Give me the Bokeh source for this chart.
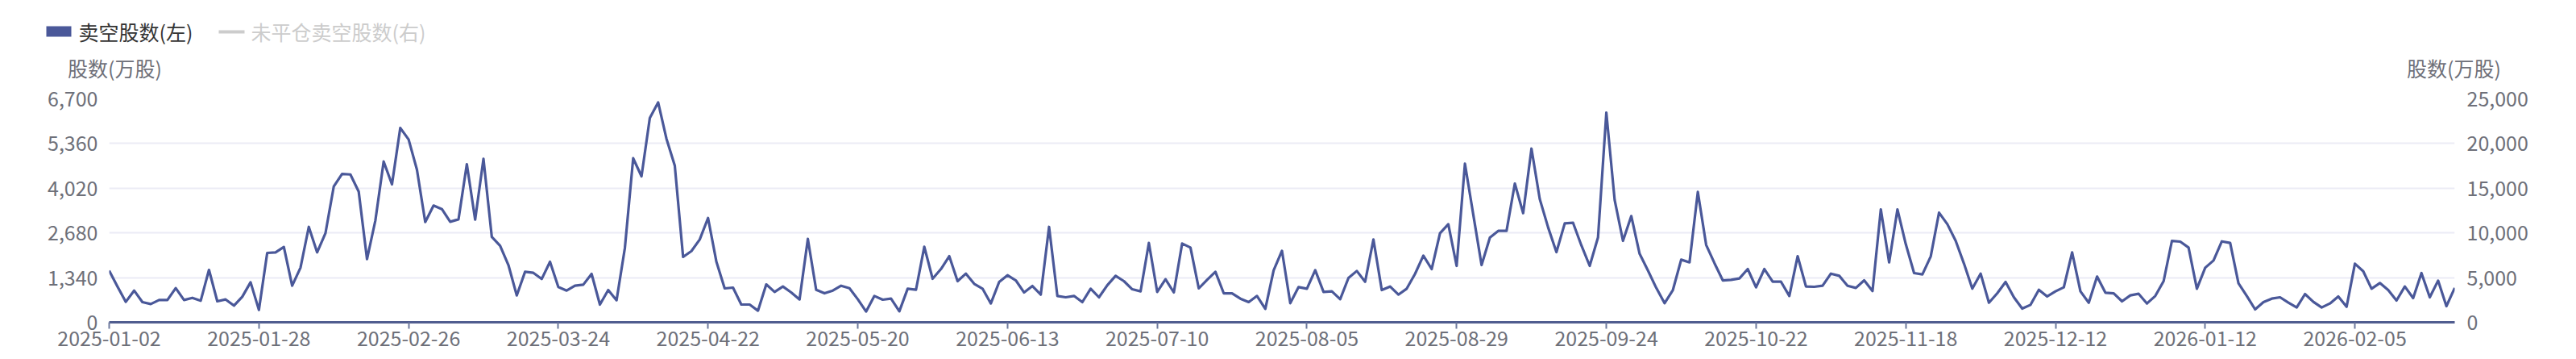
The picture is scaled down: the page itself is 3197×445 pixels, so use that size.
import pandas as pd
from bokeh.plotting import figure
from bokeh.layouts import column
from bokeh.models import Range1d, LinearAxis, FixedTicker, NumeralTickFormatter
from bokeh.core.properties import value
from bokeh.embed import file_html
from bokeh.resources import INLINE

# ---------------- data ----------------
hk_holidays = ["2025-01-01", "2025-01-29", "2025-01-30", "2025-01-31", "2025-04-04",
               "2025-04-18", "2025-04-21", "2025-05-01", "2025-05-05", "2025-07-01",
               "2025-10-01", "2025-10-07", "2025-10-29", "2025-12-25", "2025-12-26",
               "2026-01-01", "2026-02-17", "2026-02-18", "2026-02-19"]

tick_labels = ["2025-01-02", "2025-01-28", "2025-02-26", "2025-03-24", "2025-04-22",
               "2025-05-20", "2025-06-13", "2025-07-10", "2025-08-05", "2025-08-29",
               "2025-09-24", "2025-10-22", "2025-11-18", "2025-12-12", "2026-01-12",
               "2026-02-05"]

short_volume = [
    1548, 1072, 613, 951, 605, 548, 669, 669, 1024, 669,
    733, 645, 1572, 629, 685, 500, 766, 1201, 371, 2080,
    2096, 2257, 1096, 1636, 2861, 2096, 2668, 4070, 4449, 4433,
    3917, 1894, 3047, 4820, 4135, 5827, 5481, 4578, 3006, 3500,
    3393, 3014, 3087, 4739, 3079, 4900, 2563, 2297, 1717, 806,
    1515, 1483, 1298, 1814, 1056, 951, 1096, 1128, 1451, 532,
    967, 661, 2225, 4917, 4377, 6126, 6593, 5505, 4699, 1959,
    2136, 2482, 3127, 1822, 1016, 1040, 532, 532, 347, 1136,
    911, 1072, 895, 685, 2499, 975, 870, 951, 1096, 1024,
    693, 322, 790, 677, 709, 330, 1008, 975, 2265, 1306,
    1596, 1983, 1233, 1459, 1153, 1008, 564, 1209, 1411, 1257,
    895, 1088, 830, 2861, 790, 750, 790, 605, 1008, 750,
    1110, 1394, 1233, 991, 927, 2378, 911, 1290, 895, 2362,
    2241, 1016, 1273, 1515, 870, 870, 709, 605, 790, 403,
    1556, 2144, 572, 1056, 1008, 1564, 911, 927, 693, 1330,
    1539, 1217, 2482, 967, 1072, 830, 1008, 1451, 1999, 1596,
    2668, 2942, 1693, 4755, 3232, 1717, 2539, 2740, 2740, 4159,
    3272, 5207, 3691, 2845, 2104, 2966, 2982, 2305, 1693, 2547,
    6287, 3667, 2442, 3184, 2055, 1556, 1032, 572, 967, 1878,
    1797, 3909, 2321, 1773, 1257, 1273, 1314, 1596, 1048, 1596,
    1217, 1217, 790, 1983, 1072, 1064, 1096, 1459, 1394, 1096,
    1032, 1257, 935, 3385, 1797, 3385, 2345, 1475, 1435, 1975,
    3288, 2942, 2442, 1757, 1008, 1459, 588, 870, 1209, 750,
    411, 524, 975, 774, 927, 1048, 2096, 927, 588, 1370,
    887, 870, 629, 806, 854, 564, 790, 1233, 2442, 2418,
    2241, 1008, 1636, 1854, 2426, 2378, 1169, 790, 387, 605,
    709, 750, 588, 443, 846, 613, 443, 564, 774, 467,
    1757, 1531, 1008, 1177, 967, 653, 1072, 725, 1475, 750,
    1249, 484, 1032,
]

left_ticks = [0, 1340, 2680, 4020, 5360, 6700]
right_ticks = [0, 5000, 10000, 15000, 20000, 25000]

series_names = ["卖空股数(左)", "未平仓卖空股数(右)"]
axis_name = "股数(万股)"

trade_dates = [d.strftime("%Y-%m-%d") for d in
               pd.bdate_range("2025-01-02", "2026-02-27", freq="C", holidays=hk_holidays)]

n = len(short_volume)
xs = list(range(n))
dates = trade_dates[:n]
tick_pos = [dates.index(t) if t in dates else i * 18 for i, t in enumerate(tick_labels)]

# ---------------- style / layout ----------------
FONT = "Noto Sans CJK SC"
FS = "25px"
LINE_COLOR = "#4a5899"
LABEL_COLOR = "#6e7079"

W = 3197           # page has no margin in bokeh's template
HEAD_H = 102
ML, FW = 135, 2911
MT, FH = 20, 277
MB = 445 - HEAD_H - MT - FH
H = MT + FH + MB


def no_frame_align(fig):
    if "frame_align" in fig.properties():
        fig.frame_align = False


# ---------------- header (legend + axis names) ----------------
hd = figure(width=W, height=HEAD_H, x_range=Range1d(0, W), y_range=Range1d(HEAD_H, 0),
            output_backend="svg", toolbar_location=None,
            min_border_left=0, min_border_right=0, min_border_top=0, min_border_bottom=0)
no_frame_align(hd)
hd.axis.visible = False
hd.grid.visible = False
hd.outline_line_color = None
hd.background_fill_color = "white"
hd.border_fill_color = "white"

# legend item 1: filled rectangle
hd.quad(left=[57], right=[88], top=[32], bottom=[45], fill_color=LINE_COLOR, line_color=None)
hd.text(x=[97], y=[38.5], text=[series_names[0]], text_font=value(FONT),
        text_font_size=value(FS), text_color="#333333", text_align="left",
        text_baseline="middle")
# legend item 2: grey line (series hidden)
hd.line(x=[271, 303], y=[39, 39], line_color="#cccccc", line_width=4)
hd.text(x=[311], y=[38.5], text=[series_names[1]], text_font=value(FONT),
        text_font_size=value(FS), text_color="#cccccc", text_align="left",
        text_baseline="middle")
# axis names
hd.text(x=[ML + 7, ML + FW - 1], y=[83, 83], text=[axis_name, axis_name],
        text_font=value(FONT), text_font_size=value(FS), text_color=LABEL_COLOR,
        text_align="center", text_baseline="middle")

# ---------------- main chart ----------------
p = figure(width=W, height=H, x_range=Range1d(0, n - 1), y_range=Range1d(0, 6700),
           output_backend="svg", toolbar_location=None,
           min_border_left=ML, min_border_right=W - ML - FW,
           min_border_top=MT, min_border_bottom=MB)
no_frame_align(p)
p.outline_line_color = None
p.background_fill_color = "white"
p.border_fill_color = "white"
p.extra_y_ranges = {"r": Range1d(0, 25000)}

p.xgrid.visible = False
p.ygrid.ticker = FixedTicker(ticks=left_ticks[1:])
p.ygrid.grid_line_color = "#ebebf5"
p.ygrid.grid_line_width = 2

xa = p.xaxis[0]
xa.ticker = FixedTicker(ticks=tick_pos)
xa.major_label_overrides = {pos: lab for pos, lab in zip(tick_pos, tick_labels)}
xa.axis_line_color = "#505d8f"
xa.axis_line_width = 3
xa.major_tick_line_color = "#6e7a9e"
xa.major_tick_line_width = 2
xa.major_tick_in = 0
xa.major_tick_out = 8
xa.minor_tick_line_color = None
xa.major_label_standoff = 2
xa.major_label_text_font = FONT
xa.major_label_text_font_size = FS
xa.major_label_text_color = LABEL_COLOR

ya = p.yaxis[0]
ya.ticker = FixedTicker(ticks=left_ticks)
ya.formatter = NumeralTickFormatter(format="0,0")
ya.axis_line_color = None
ya.major_tick_line_color = None
ya.minor_tick_line_color = None
ya.major_tick_in = 0
ya.major_tick_out = 0
ya.major_label_standoff = 14
ya.major_label_text_font = FONT
ya.major_label_text_font_size = FS
ya.major_label_text_color = LABEL_COLOR

ra = LinearAxis(y_range_name="r", ticker=FixedTicker(ticks=right_ticks),
                formatter=NumeralTickFormatter(format="0,0"))
ra.axis_line_color = None
ra.major_tick_line_color = None
ra.minor_tick_line_color = None
ra.major_tick_in = 0
ra.major_tick_out = 0
ra.major_label_standoff = 15
ra.major_label_text_font = FONT
ra.major_label_text_font_size = FS
ra.major_label_text_color = LABEL_COLOR
p.add_layout(ra, "right")

p.line(xs, short_volume, line_color=LINE_COLOR, line_width=3.2, line_join="round")

layout = column(hd, p, spacing=0)
open("out.html", "w").write(file_html(layout, INLINE))
